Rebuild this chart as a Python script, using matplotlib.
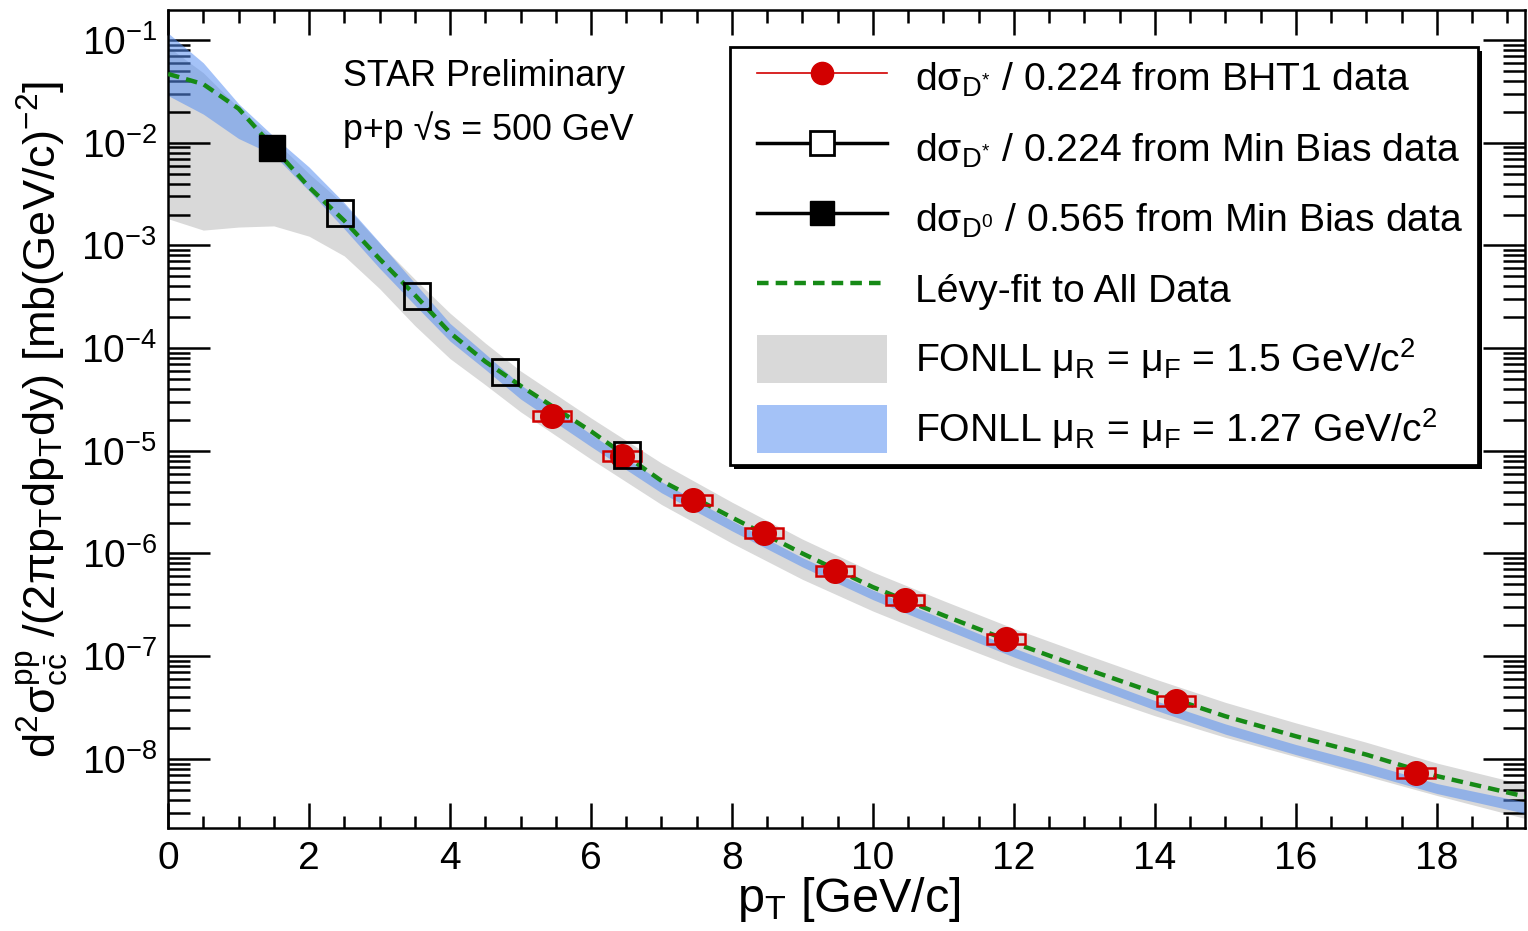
import matplotlib
matplotlib.use('Agg')
from matplotlib import pyplot as plt
from matplotlib.lines import Line2D
from matplotlib.patches import Patch, Rectangle
from matplotlib.ticker import MultipleLocator, LogLocator, NullFormatter, FixedLocator
import numpy as np

plt.rcParams['font.family'] = ['Liberation Sans', 'DejaVu Sans']
plt.rcParams['mathtext.fontset'] = 'custom'
plt.rcParams['mathtext.rm'] = 'Liberation Sans'
plt.rcParams['mathtext.it'] = 'Liberation Sans:italic'
plt.rcParams['mathtext.default'] = 'regular'
plt.rcParams['axes.unicode_minus'] = False

# D* from BHT1 trigger (red circles)
bht1_pt = [5.45, 6.44, 7.45, 8.45, 9.46, 10.45, 11.89, 14.3, 17.7]
bht1_val = [2.18e-5, 8.9e-6, 3.32e-6, 1.58e-6, 6.76e-7, 3.53e-7, 1.47e-7, 3.66e-8, 7.29e-9]
bht1_sys = [0.11, 0.11, 0.11, 0.11, 0.11, 0.11, 0.11, 0.11, 0.11]  # relative

# D* from min bias (open squares)
mb_dstar_pt = [2.44, 3.53, 4.78, 6.51]
mb_dstar_val = [2.07e-3, 3.21e-4, 5.85e-5, 9.1e-6]

# D0 from min bias (filled square)
mb_d0_pt = [1.48]
mb_d0_val = [8.88e-3]

# curves: Levy fit and FONLL bands
curve_pt = [0, 0.5, 1, 1.5, 2, 2.5, 3, 3.5, 4, 4.5, 5, 6, 7, 8, 9, 10, 11, 12, 13, 14,
            15, 16, 17, 18, 19.25]
levy_val = [0.0468, 0.0372, 0.0215, 8.9e-3, 3.7e-3, 1.74e-3, 7.4e-4, 3.3e-4, 1.41e-4, 7.4e-5,
            4.3e-5, 1.55e-5, 5.1e-6, 2.24e-6, 1.0e-6, 4.7e-7, 2.5e-7, 1.35e-7, 7.6e-8, 4.4e-8,
            2.6e-8, 1.66e-8, 1.1e-8, 6.8e-9, 4.3e-9]

fonll127_hi = [0.117, 0.060, 0.024, 0.0115, 5.8e-3, 2.6e-3, 1.07e-3, 4.3e-4, 1.74e-4, 8.8e-5,
               4.4e-5, 1.45e-5, 5.0e-6, 2.09e-6, 9.1e-7, 4.4e-7, 2.3e-7, 1.2e-7, 6.6e-8, 3.7e-8,
               2.19e-8, 1.38e-8, 9.1e-9, 5.75e-9, 3.8e-9]
fonll127_lo = [0.0288, 0.019, 0.011, 7.6e-3, 3.4e-3, 1.45e-3, 6.0e-4, 2.63e-4, 1.17e-4, 6.2e-5,
               3.2e-5, 1.10e-5, 3.9e-6, 1.66e-6, 7.4e-7, 3.55e-7, 1.86e-7, 9.8e-8, 5.4e-8, 3.0e-8,
               1.74e-8, 1.10e-8, 7.2e-9, 4.6e-9, 2.95e-9]

fonll15_hi = [0.086, 0.048, 0.0219, 0.0107, 5.0e-3, 2.5e-3, 1.05e-3, 4.7e-4, 2.19e-4, 1.12e-4,
              6.0e-5, 2.09e-5, 7.6e-6, 3.16e-6, 1.38e-6, 6.6e-7, 3.47e-7, 1.86e-7, 1.05e-7, 6.0e-8,
              3.55e-8, 2.24e-8, 1.45e-8, 9.1e-9, 5.6e-9]
fonll15_lo = [1.82e-3, 1.41e-3, 1.51e-3, 1.55e-3, 1.23e-3, 7.9e-4, 3.8e-4, 1.66e-4, 7.9e-5, 4.4e-5,
              2.4e-5, 8.3e-6, 3.0e-6, 1.26e-6, 5.6e-7, 2.75e-7, 1.45e-7, 7.9e-8, 4.5e-8, 2.63e-8,
              1.62e-8, 1.05e-8, 6.8e-9, 4.4e-9, 2.63e-9]

y_major = [1e-8, 1e-7, 1e-6, 1e-5, 1e-4, 1e-3, 1e-2, 1e-1]

red = '#d20000'
green = '#168a16'
gray = '#d9d9d9'
blue = (0.35, 0.565, 0.95)

W, H = 1528, 931
fig = plt.figure(figsize=(W / 100, H / 100), dpi=100)
ax = fig.add_axes([0.110, 0.1106, 0.888, 0.8786])

ax.fill_between(curve_pt, fonll15_lo, fonll15_hi, color=gray, lw=0, zorder=1)
ax.fill_between(curve_pt, fonll127_lo, fonll127_hi, color=blue, alpha=0.55, lw=0, zorder=2)
ax.plot(curve_pt, levy_val, color=green, lw=3.2, ls=(0, (2.6, 1.6)), zorder=3)

# systematic boxes for BHT1 points
for x, y, s in zip(bht1_pt, bht1_val, bht1_sys):
    ax.add_patch(Rectangle((x - 0.27, y * (1 - s)), 0.54, y * 2 * s, fill=False,
                           edgecolor=red, lw=1.8, zorder=4))
ax.plot(bht1_pt, bht1_val, 'o', color=red, ms=17, zorder=5)
ax.plot(mb_dstar_pt, mb_dstar_val, 's', mfc='none', mec='black', mew=2.0, ms=19, zorder=6)
ax.plot(mb_d0_pt, mb_d0_val, 's', color='black', ms=19, zorder=6)

ax.set_yscale('log')
ax.set_xlim(0, 19.25)
ax.set_ylim(2.12e-9, 0.196)

ax.xaxis.set_major_locator(MultipleLocator(2))
ax.xaxis.set_minor_locator(MultipleLocator(0.5))
ax.yaxis.set_major_locator(FixedLocator(y_major))
ax.yaxis.set_minor_locator(LogLocator(base=10, subs=np.arange(2, 10), numticks=200))
ax.yaxis.set_minor_formatter(NullFormatter())

ax.tick_params(axis='both', which='both', direction='in', top=True, right=True,
               width=1.8, labelsize=28)
ax.tick_params(axis='x', which='major', length=18, pad=9)
ax.tick_params(axis='x', which='minor', length=9)
ax.tick_params(axis='y', which='major', length=30, pad=8)
ax.tick_params(axis='y', which='minor', length=16)
for sp in ax.spines.values():
    sp.set_linewidth(1.8)

ax.set_xlabel('p$_{T}$ [GeV/c]', fontsize=35, va='top')
ax.xaxis.set_label_coords(0.502, -0.057)
ax.set_ylabel(r'd$^{2}\sigma^{pp}_{c\bar{c}}$ /(2$\pi$p$_{T}$dp$_{T}$dy) [mb(GeV/c)$^{-2}$]',
              fontsize=32.5)
ax.yaxis.set_label_coords(-0.072, 0.5)

ax.text(0.129, 0.919, 'STAR Preliminary', transform=ax.transAxes, fontsize=25.8,
        va='center', ha='left')
ax.text(0.129, 0.854, 'p+p \u221as = 500 GeV', transform=ax.transAxes, fontsize=25.8,
        va='center', ha='left')

# legend frame with a hard black shadow, drawn by hand
box_x0, box_y0, box_x1, box_y1 = 730, 47, 1478, 465
shadow = Rectangle(((box_x0 + 4) / W, 1 - (box_y1 + 4) / H), (box_x1 - box_x0) / W,
                   (box_y1 - box_y0) / H, transform=fig.transFigure, facecolor='black',
                   edgecolor='black', lw=0, clip_on=False, zorder=8)
frame = Rectangle((box_x0 / W, 1 - box_y1 / H), (box_x1 - box_x0) / W, (box_y1 - box_y0) / H,
                  transform=fig.transFigure, facecolor='white', edgecolor='black', lw=2,
                  clip_on=False, zorder=9)
ax.add_patch(shadow)
ax.add_patch(frame)

handles = [
    Line2D([], [], color=red, lw=1.2, marker='o', ms=16),
    Line2D([], [], color='black', lw=2.5, marker='s', mfc='white', mec='black', mew=2.0, ms=17),
    Line2D([], [], color='black', lw=2.5, marker='s', mfc='black', ms=17),
    Line2D([], [], color=green, lw=3.2, ls=(0, (2.6, 1.6))),
    Patch(facecolor=gray, edgecolor='none'),
    Patch(facecolor=blue, alpha=0.55, edgecolor='none'),
]
labels = [
    r'd$\sigma_{D^{*}}$ / 0.224 from BHT1 data',
    r'd$\sigma_{D^{*}}$ / 0.224 from Min Bias data',
    r'd$\sigma_{D^{0}}$ / 0.565 from Min Bias data',
    'Lévy-fit to All Data',
    r'FONLL $\mu_{R}$ = $\mu_{F}$ = 1.5 GeV/c$^{2}$',
    r'FONLL $\mu_{R}$ = $\mu_{F}$ = 1.27 GeV/c$^{2}$',
]
leg = ax.legend(handles, labels, loc='upper left', bbox_to_anchor=(757 / W, 1 - 54 / H),
                bbox_transform=fig.transFigure, borderaxespad=0, borderpad=0,
                fontsize=28.2, frameon=False, handlelength=3.33, handleheight=1.52,
                handletextpad=0.7, labelspacing=0.56)
leg.set_zorder(10)

fig.savefig('out.png', dpi=100)
